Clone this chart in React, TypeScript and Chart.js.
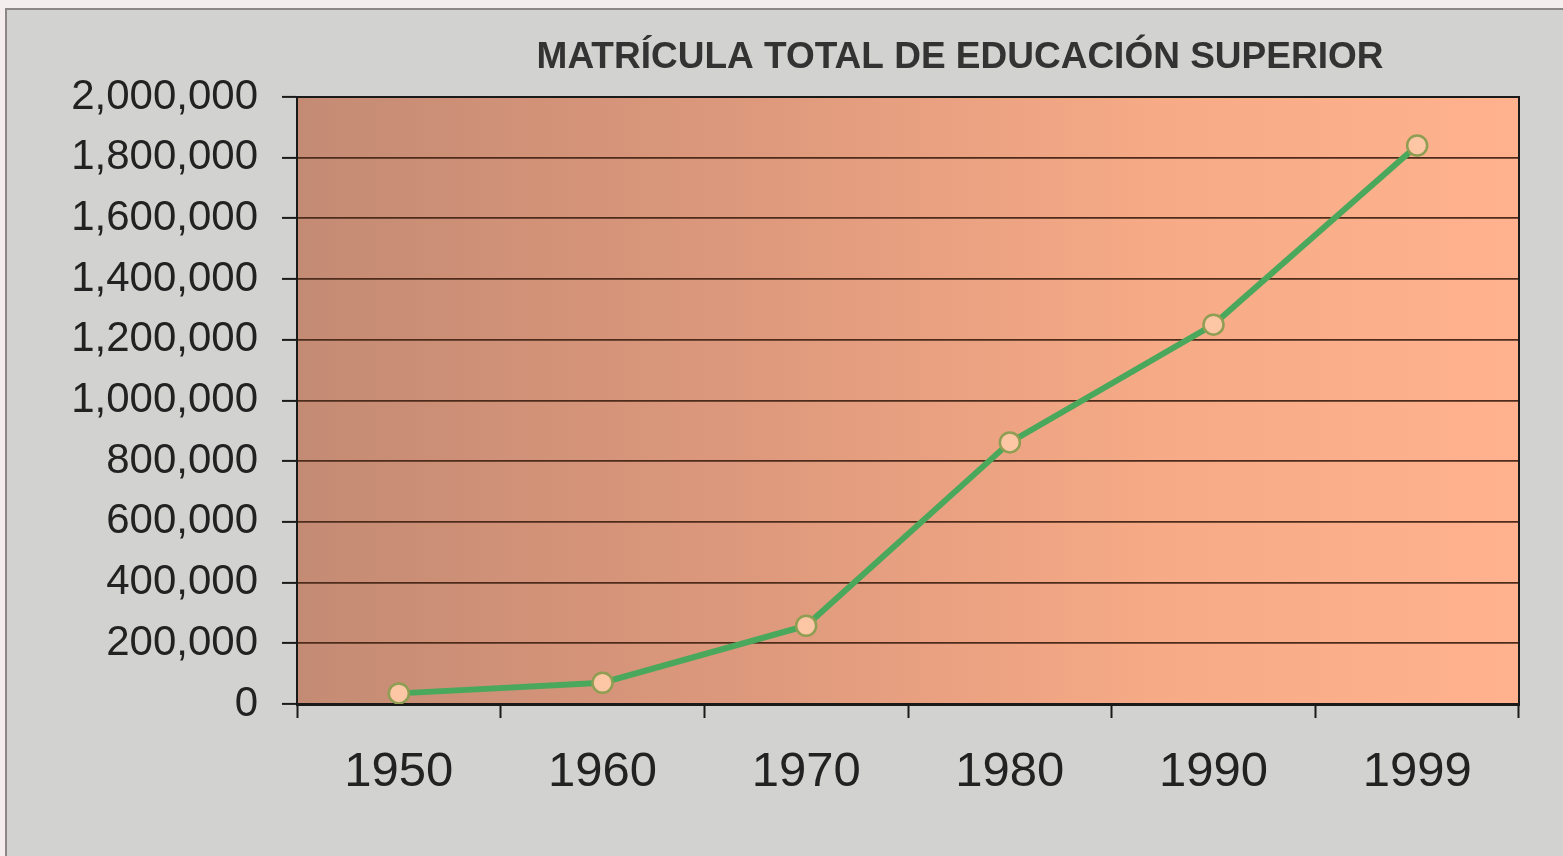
import React, { useEffect, useRef } from "react";
import { Chart, registerables } from "chart.js";

Chart.register(...registerables);

const years = ["1950", "1960", "1970", "1980", "1990", "1999"];
const enrollment = [35000, 70000, 258000, 862000, 1250000, 1840000];
const titleText = "MATRÍCULA TOTAL DE EDUCACIÓN SUPERIOR";
const yMax = 2000000;
const yStep = 200000;

const plotBgPlugin = {
  id: "plotBg",
  beforeDraw(chart: any) {
    const { ctx, chartArea } = chart;
    const { left, right, top, bottom } = chartArea;
    const g = ctx.createLinearGradient(left, 0, right, 0);
    g.addColorStop(0, "#c48b74");
    g.addColorStop(0.35, "#dc987c");
    g.addColorStop(0.7, "#f6aa86");
    g.addColorStop(1, "#ffb28d");
    ctx.save();
    ctx.fillStyle = g;
    ctx.fillRect(left, top, right - left, bottom - top);
    ctx.restore();
  },
  afterDatasetsDraw(chart: any) {
    const { ctx, chartArea } = chart;
    const { left, right, top, bottom } = chartArea;
    ctx.save();
    ctx.strokeStyle = "#1a1a1a";
    ctx.lineWidth = 2;
    ctx.beginPath();
    ctx.moveTo(left, top);
    ctx.lineTo(right, top);
    ctx.lineTo(right, bottom);
    ctx.stroke();
    ctx.restore();
  },
  afterDraw(chart: any) {
    const { ctx } = chart;
    ctx.save();
    ctx.fillStyle = "#333333";
    ctx.font = "bold 37px 'Liberation Sans', Arial, sans-serif";
    ctx.textAlign = "center";
    ctx.textBaseline = "middle";
    ctx.fillText(titleText, 960, 58);
    ctx.restore();
  },
};

export default function App() {
  const ref = useRef<HTMLCanvasElement | null>(null);

  useEffect(() => {
    if (!ref.current) return;
    const chart = new Chart(ref.current, {
      type: "line",
      data: {
        labels: years,
        datasets: [
          {
            data: enrollment,
            borderColor: "#4aa85c",
            borderWidth: 6,
            pointRadius: 10,
            pointBackgroundColor: "#fdc6a4",
            pointBorderColor: "#8e9e52",
            pointBorderWidth: 2.5,
            tension: 0,
            fill: false,
          },
        ],
      },
      options: {
        animation: false,
        responsive: false,
        maintainAspectRatio: false,
        layout: { padding: { top: 97, right: 44, left: 0, bottom: 0 } },
        plugins: {
          legend: { display: false },
          title: { display: false },
          tooltip: { enabled: false },
        },
        scales: {
          x: {
            type: "category",
            offset: true,
            grid: {
              offset: true,
              drawOnChartArea: false,
              drawTicks: true,
              tickLength: 14,
              tickColor: "#1a1a1a",
              tickWidth: 2,
            },
            border: { display: true, color: "#1a1a1a", width: 3 },
            ticks: {
              color: "#222222",
              padding: 25,
              font: { family: "'Liberation Sans', Arial, sans-serif", size: 49 },
              maxRotation: 0,
            },
            afterFit(scale: any) {
              scale.height = 152;
            },
          },
          y: {
            min: 0,
            max: yMax,
            grid: {
              color: "#4e2c1c",
              lineWidth: 1.8,
              drawTicks: true,
              tickLength: 15,
              tickColor: "#1a1a1a",
              tickWidth: 2,
            },
            border: { display: true, color: "#1a1a1a", width: 2 },
            ticks: {
              stepSize: yStep,
              color: "#222222",
              padding: 24,
              font: { family: "'Liberation Sans', Arial, sans-serif", size: 42 },
              callback: (v: any) => Number(v).toLocaleString("en-US"),
            },
            afterFit(scale: any) {
              scale.width = 297;
            },
          },
        },
      },
      plugins: [plotBgPlugin],
    });
    return () => chart.destroy();
  }, []);

  return (
    <div
      style={{
        position: "fixed",
        left: 0,
        top: 0,
        width: 1563,
        height: 856,
        background: "#f4eded",
        overflow: "hidden",
      }}
    >
      <div
        style={{
          position: "absolute",
          left: 5,
          top: 8,
          width: 1563,
          height: 856,
          background: "#d2d2d1",
          borderTop: "2px solid #8c8686",
          borderLeft: "2px solid #8c8686",
        }}
      />
      <canvas
        ref={ref}
        width={1563}
        height={856}
        style={{ position: "absolute", left: 0, top: 0, width: 1563, height: 856 }}
      />
    </div>
  );
}
